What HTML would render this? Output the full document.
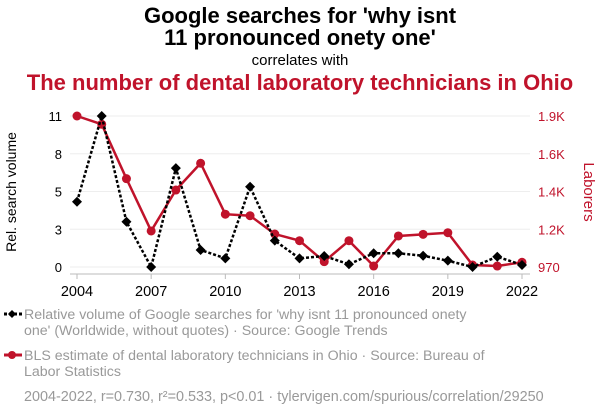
<!DOCTYPE html>
<html><head><meta charset="utf-8"><style>
body{margin:0;background:#fff;font-family:"Liberation Sans",Arial,sans-serif;}
</style></head><body>
<svg id="chart" width="600" height="414" xmlns="http://www.w3.org/2000/svg" font-family="Liberation Sans, Arial, sans-serif">
<text x="300" y="23" text-anchor="middle" font-size="22" font-weight="bold">Google searches for 'why isnt</text>
<text x="300" y="45" text-anchor="middle" font-size="22" font-weight="bold">11 pronounced onety one'</text>
<text x="300" y="65" text-anchor="middle" font-size="15">correlates with</text>
<text x="300" y="90" text-anchor="middle" font-size="22" font-weight="bold" fill="#c0132b">The number of dental laboratory technicians in Ohio</text>
<g id="grid"></g><g id="axes"></g><g id="series"></g>
<text transform="translate(16,192) rotate(-90)" text-anchor="middle" font-size="14">Rel. search volume</text>
<text transform="translate(584,192) rotate(90)" text-anchor="middle" font-size="15" fill="#c0132b">Laborers</text>
<g>
<line x1="4" y1="314" x2="22" y2="314" stroke="#000" stroke-width="3" stroke-dasharray="3,2"/>
<path d="M8,314 l4,-4 l4,4 l-4,4z" fill="#000"/>
<text x="24" y="319" font-size="14.2" fill="#999">Relative volume of Google searches for 'why isnt 11 pronounced onety</text>
<text x="24" y="335" font-size="14.2" fill="#999">one' (Worldwide, without quotes) · Source: Google Trends</text>
</g>
<g>
<line x1="4" y1="355" x2="22" y2="355" stroke="#c0132b" stroke-width="3"/>
<circle cx="12" cy="355" r="4" fill="#c0132b"/>
<text x="24" y="360" font-size="14.2" fill="#999">BLS estimate of dental laboratory technicians in Ohio · Source: Bureau of</text>
<text x="24" y="376" font-size="14.2" fill="#999">Labor Statistics</text>
</g>
<text x="24" y="401" font-size="14.4" fill="#999">2004-2022, r=0.730, r²=0.533, p&lt;0.01 · tylervigen.com/spurious/correlation/29250</text>
</svg>
<script>
const years=[2004,2005,2006,2007,2008,2009,2010,2011,2012,2013,2014,2015,2016,2017,2018,2019,2020,2021,2022];
const searches=[4.75,11,3.3,0,7.2,1.24,0.63,5.85,1.92,0.63,0.8,0.2,1.0,1.0,0.82,0.46,0,0.75,0.15];
const laborers=[1900,1849,1514,1192,1444,1609,1295,1286,1173,1132,1003,1132,976,1161,1171,1181,982,976,999];
const xTicks=[2004,2007,2010,2013,2016,2019,2022];
const leftTicks=[0,2.75,5.5,8.25,11];
const leftLabels=["0","3","5","8","11"];
const rightTicks=[970,1202.5,1435,1667.5,1900];
const rightLabels=["970","1.2K","1.4K","1.6K","1.9K"];
const NS="http://www.w3.org/2000/svg";
const x=v=>77+(v-2004)*(522-77)/18;
const yL=v=>267-v*(267-116)/11;
const yR=v=>267-(v-970)*(267-116)/930;
function mk(tag,attrs,parent){const e=document.createElementNS(NS,tag);for(const k in attrs)e.setAttribute(k,attrs[k]);parent.appendChild(e);return e;}
const grid=document.getElementById('grid'),axes=document.getElementById('axes'),ser=document.getElementById('series');
leftTicks.forEach((t,i)=>{
 const g=mk('line',{x1:70,x2:530,y1:yL(t),y2:yL(t),stroke:'#eee','stroke-width':1},grid);
 
 
 const l=mk('text',{x:62,y:yL(t)+5,'text-anchor':'end','font-size':13},axes);l.textContent=leftLabels[i];
 
 
});
rightTicks.forEach((t,i)=>{
 const l=mk('text',{x:538,y:yR(t)+5,'font-size':13,fill:'#c0132b'},axes);l.textContent=rightLabels[i];
 
 
});
const ax=mk('line',{x1:70,x2:530,y1:274,y2:274,stroke:'#bbb'},axes);


xTicks.forEach(t=>{
 mk('line',{x1:x(t),x2:x(t),y1:274,y2:279,stroke:'#bbb'},axes);
 const l=mk('text',{x:x(t),y:296,'text-anchor':'middle','font-size':14.5},axes);l.textContent=t;
 
 
});
const rp=mk('polyline',{points:years.map((y,i)=>x(y)+','+yR(laborers[i])).join(' '),fill:'none',stroke:'#c0132b','stroke-width':2.5},ser);


years.forEach((y,i)=>{const c=mk('circle',{cx:x(y),cy:yR(laborers[i]),r:4.5,fill:'#c0132b'},ser);
 
 });
const bp=mk('polyline',{points:years.map((y,i)=>x(y)+','+yL(searches[i])).join(' '),fill:'none',stroke:'#000','stroke-width':2.5,'stroke-dasharray':'3,2'},ser);


years.forEach((y,i)=>{const cx=x(y),cy=yL(searches[i]);
 const d=mk('path',{d:`M${cx-5},${cy} L${cx},${cy-5} L${cx+5},${cy} L${cx},${cy+5}Z`,fill:'#000'},ser);
 
 });
</script>
</body></html>
